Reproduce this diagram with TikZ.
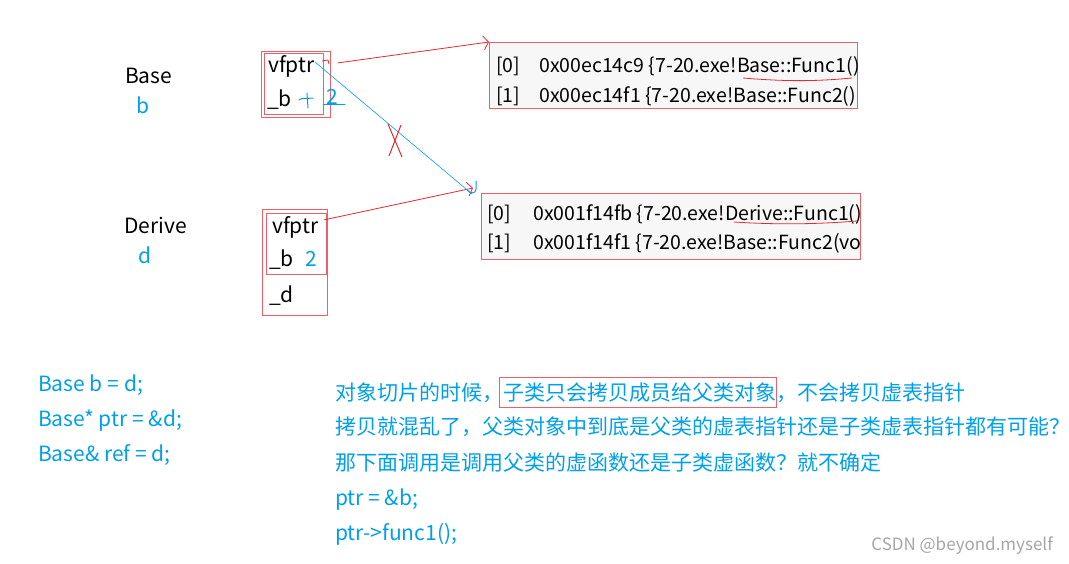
\documentclass[tikz,border=0pt]{standalone}
\usepackage{fontspec}
\setmainfont{Noto Sans CJK SC}
\usetikzlibrary{positioning,arrows.meta}
\definecolor{inkblue}{RGB}{0,160,233}
\definecolor{inkred}{RGB}{232,40,50}
\definecolor{boxred}{RGB}{236,96,106}
\definecolor{vtgray}{RGB}{247,247,247}

\begin{document}
\begin{tikzpicture}[x=1pt,y=-1pt,
  objlbl/.style={font=\fontsize{21}{24}\selectfont,inner sep=0pt,anchor=base west},
  fld/.style={font=\fontsize{21}{24}\selectfont,inner sep=0pt,anchor=base west},
  vrow/.style={font=\fontsize{19.5}{22}\selectfont,inner sep=0pt,anchor=base west},
  note/.style={font=\fontsize{21}{24}\selectfont,text=inkblue,inner sep=0pt,anchor=base west},
  vtab/.style={draw=boxred,fill=vtgray,line width=1pt,anchor=north west,inner sep=0pt},
  objbox/.style={draw=boxred,line width=1pt},
  ptr/.style={draw=inkred,line width=0.8pt,-{Straight Barb[length=5pt,width=14pt]}},
  ink/.style={inkblue,line width=1pt,line cap=round}]
  \useasboundingbox[fill=white] (0,0) rectangle (1069,563);
  % object b of class Base
  \node[objlbl] (bcls) at (125,83) {Base};
  \node[objlbl,text=inkblue] (bvar) at (136,113) {b};
  \draw[objbox] (261,51) rectangle (330,117);
  \draw[objbox] (264,53) rectangle (323,114);
  \node[fld] (bvf) at (268,72) {vfptr};
  \node[fld] (bb) at (267,106) {\_b};
  \draw[inkred,line width=0.8pt] (322,61) -- (328,60) -- (329,64);
  \draw[ink] (299,100) .. controls (303,97) and (306,99) .. (313,98);
  \draw[ink] (307,93) -- (308,108);
  \node[fld,text=inkblue] (bb2) at (326,104) {2};
  \draw[ink] (323,104) -- (345,104);
  % object d of class Derive
  \node[objlbl] (dcls) at (124,233) {Derive};
  \node[objlbl,text=inkblue] (dvar) at (138,263) {d};
  \draw[objbox] (262,209) rectangle (327,315);
  \draw[objbox] (266,213) rectangle (326,274);
  \node[fld] (dvf) at (272,233) {vfptr};
  \node[fld] (db) at (269,266) {\_b};
  \node[fld,text=inkblue] (db2) at (305,266) {2};
  \node[fld] (dd) at (269,302) {\_d};
  % vtable of Base
  \node[vtab,minimum width=368,minimum height=66] (vt1) at (489,42) {};
  \begin{scope}
    \clip (vt1.north west) rectangle (vt1.south east);
    \node[vrow] (r10) at (496,72) {[0]};
    \node[vrow] (a10) at (539,72) {0x00ec14c9 \{7-20.exe!Base::Func1()};
    \node[vrow] (r11) at (496,102) {[1]};
    \node[vrow] (a11) at (539,102) {0x00ec14f1 \{7-20.exe!Base::Func2()};
  \end{scope}
  \draw[inkred,line width=0.8pt] (743,78) .. controls (790,82) and (820,81) .. (852,78);
  % vtable of Derive
  \node[vtab,minimum width=379,minimum height=66] (vt2) at (481,193) {};
  \begin{scope}
    \clip (vt2.north west) rectangle (vt2.south east);
    \node[vrow] (r20) at (487,220) {[0]};
    \node[vrow] (a20) at (533,220) {0x001f14fb \{7-20.exe!Derive::Func1()};
    \node[vrow] (r21) at (487,249) {[1]};
    \node[vrow] (a21) at (533,249) {0x001f14f1 \{7-20.exe!Base::Func2(void)};
  \end{scope}
  \draw[inkred,line width=0.8pt] (734,222) .. controls (780,225) and (820,224) .. (857,221);
  % pointers
  \draw[ptr] (bvf.east) ++(23,-3) -- (vt1.north west);
  \draw[ptr] (dvf.east) ++(5,-7) -- ([xshift=-8pt,yshift=5pt]vt2.north west);
  \draw[inkblue,line width=0.6pt] (bvf.east) ++(0,-4) -- ([xshift=-9pt,yshift=-1pt]vt2.north west);
  \draw[ink] (476,181) -- (476,189) .. controls (476,194) and (470,194) .. (467,190);
  \draw[inkred,line width=1pt] (388,124) -- (402,157);
  \draw[inkred,line width=1pt] (401,125) -- (389,156);
  % code
  \node[note] (c1) at (38,391) {Base b = d;};
  \node[note] (c2) at (38,426) {Base* ptr = \&d;};
  \node[note] (c3) at (38,461) {Base\& ref = d;};
  % notes
  \node[note] (n1) at (335,400) {对象切片的时候，子类只会拷贝成员给父类对象，不会拷贝虚表指针};
  \draw[boxred,line width=1pt] (499,377) rectangle (776,407);
  \node[note] (n2) at (335,434) {拷贝就混乱了，父类对象中到底是父类的虚表指针还是子类虚表指针都有可能？};
  \node[note] (n3) at (335,470) {那下面调用是调用父类的虚函数还是子类虚函数？就不确定};
  \node[note] (n4) at (335,505) {ptr = \&b;};
  \node[note] (n5) at (335,540) {ptr->func1();};
  \node[font=\fontsize{17}{20}\selectfont,text=gray!70,inner sep=0pt,anchor=base east] (wm) at (1053,550) {CSDN @beyond.myself};
\end{tikzpicture}
\end{document}
